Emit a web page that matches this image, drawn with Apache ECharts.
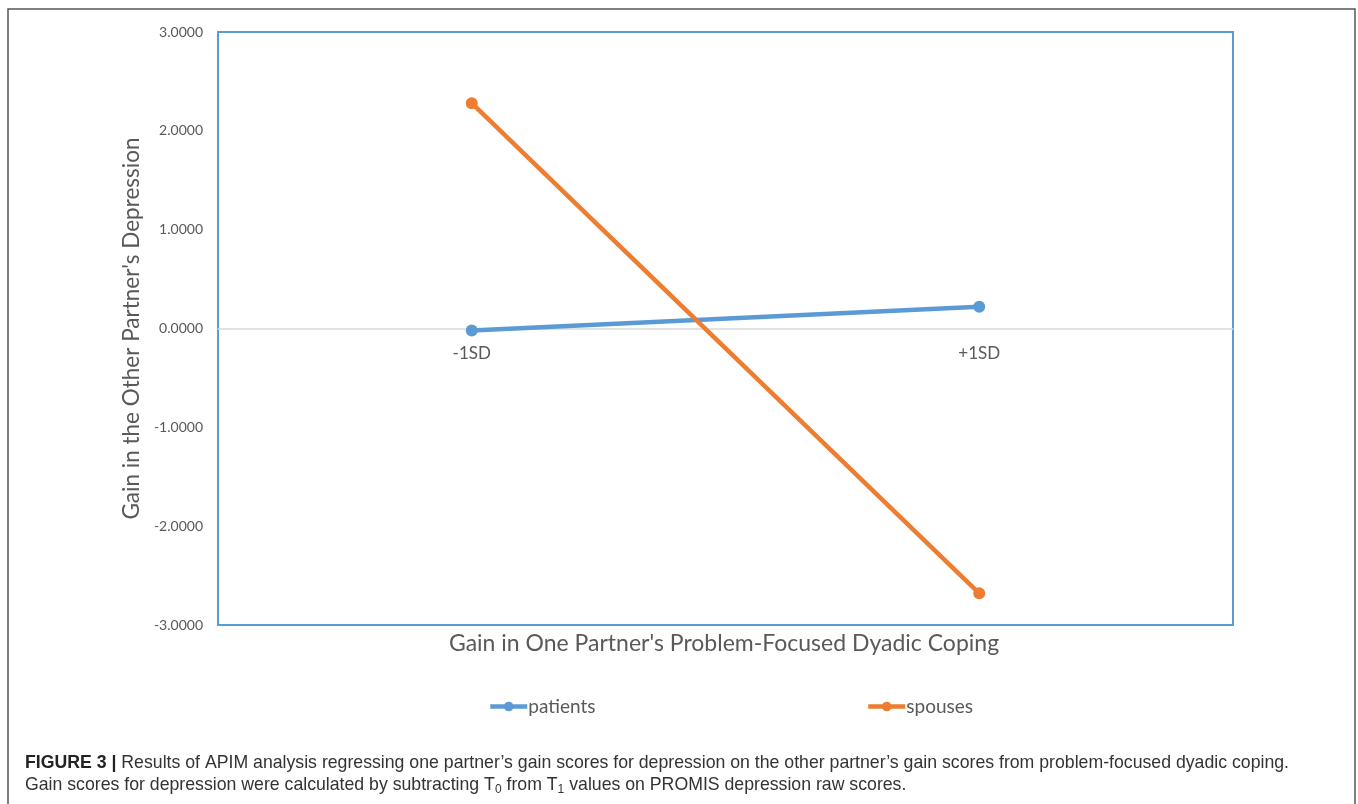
<!DOCTYPE html>
<html><head><meta charset="utf-8">
<script src="https://cdn.jsdelivr.net/npm/echarts@6/dist/echarts.min.js"></script>
<style>html,body{margin:0;padding:0;background:#fff}#c{width:1358px;height:804px}</style>
</head><body><div id="c"></div>
<script>
const categories = ['-1SD', '+1SD'];
const patients = [-0.02, 0.22];
const spouses = [2.28, -2.68];
const yTicks = { min: -3, max: 3, interval: 1 };
const seriesNames = ['patients', 'spouses'];

const chart = echarts.init(document.getElementById('c'));
const font = 'Lato, "Open Sans", sans-serif';
const capFont = '"Liberation Sans", Arial, sans-serif';
const gridTop = 32, gridBottomY = 625;
const zeroOffset = -(gridBottomY - (gridTop + (gridBottomY - gridTop) * (yTicks.max - 0) / (yTicks.max - yTicks.min)));
chart.setOption({
  animation: false,
  backgroundColor: '#fff',
  grid: { left: 218, right: 125, top: gridTop, bottom: 804 - gridBottomY, show: true, borderColor: '#5b9bd5', borderWidth: 2, backgroundColor: 'transparent' },
  xAxis: {
    type: 'category', data: categories, boundaryGap: true, position: 'bottom', offset: zeroOffset,
    axisLine: { onZero: false, lineStyle: { color: '#d9d9d9', width: 1.5 } },
    axisTick: { show: false },
    axisLabel: { color: '#595959', fontSize: 17, fontFamily: font, margin: 17 }
  },
  yAxis: {
    type: 'value', min: yTicks.min, max: yTicks.max, interval: yTicks.interval,
    axisLine: { show: false }, axisTick: { show: false }, splitLine: { show: false },
    axisLabel: { color: '#595959', fontSize: 14, fontFamily: font, margin: 15, formatter: v => v.toFixed(4) },
    name: "Gain in the Other Partner's Depression", nameLocation: 'middle', nameGap: 73,
    nameTextStyle: { color: '#595959', fontSize: 22.5, fontFamily: font }
  },
  legend: [
    { data: [seriesNames[0]], left: 483, top: 692, itemWidth: 37, itemHeight: 12, itemGap: 2, lineStyle: { width: 4.5 }, textStyle: { color: '#595959', fontSize: 19, fontFamily: font, padding: [0,0,0,-4] } },
    { data: [seriesNames[1]], left: 861, top: 692, itemWidth: 37, itemHeight: 12, itemGap: 2, lineStyle: { width: 4.5 }, textStyle: { color: '#595959', fontSize: 19, fontFamily: font, padding: [0,0,0,-4] } }
  ],
  series: [
    { name: seriesNames[0], type: 'line', data: patients, color: '#5b9bd5', lineStyle: { width: 4.5 }, symbol: 'circle', symbolSize: 12 },
    { name: seriesNames[1], type: 'line', data: spouses, color: '#ed7d31', lineStyle: { width: 4.5 }, symbol: 'circle', symbolSize: 12 }
  ],
  graphic: [
    { type: 'rect', shape: { x: 8, y: 9, width: 1347, height: 820 }, style: { fill: 'none', stroke: '#555', lineWidth: 1.5 }, z: 0 },
    { type: 'text', x: 724, y: 644, style: { text: "Gain in One Partner's Problem-Focused Dyadic Coping", fill: '#595959', font: '23px ' + font, textAlign: 'center', textVerticalAlign: 'middle' } },
    { type: 'text', x: 25, y: 763, style: {
        text: '{b|FIGURE 3 |} Results of APIM analysis regressing one partner\u2019s gain scores for depression on the other partner\u2019s gain scores from problem-focused dyadic coping.',
        fill: '#333', fontFamily: capFont, fontSize: 17.7, verticalAlign: 'middle',
        rich: { b: { fontWeight: 'bold', fontFamily: capFont, fontSize: 17.7, fill: '#222' } } } },
    { type: 'text', x: 25, y: 785, style: {
        text: 'Gain scores for depression were calculated by subtracting T{s|0} from T{s|1} values on PROMIS depression raw scores.',
        fill: '#333', fontFamily: capFont, fontSize: 17.7, verticalAlign: 'middle',
        rich: { s: { fontSize: 12, fontFamily: capFont, fill: '#333', padding: [10, 0, 0, 0] } } } }
  ]
});
</script></body></html>
